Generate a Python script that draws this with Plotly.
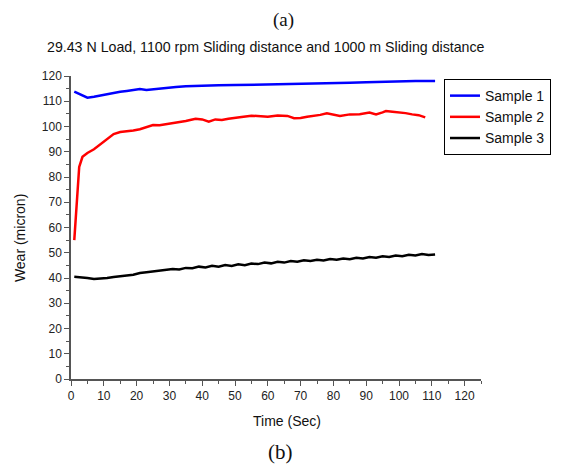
import plotly.graph_objects as go

# Data
time_s1 = [1, 3, 5, 7, 9, 11, 13, 15, 17, 19, 21, 23, 25, 27, 29, 32, 35, 38, 41, 45,
           50, 55, 60, 65, 70, 75, 80, 85, 90, 95, 100, 105, 111]
wear_s1 = [113.8, 112.5, 111.4, 111.8, 112.3, 112.9, 113.2, 113.8, 114.1, 114.6, 114.8,
           114.5, 114.8, 115.1, 115.3, 115.6, 115.9, 116.1, 116.2, 116.3, 116.4, 116.5,
           116.6, 116.7, 116.8, 116.9, 117.1, 117.3, 117.5, 117.7, 117.9, 118.0, 118.0]

time_s2 = [1, 2, 2.5, 3.5, 5, 7, 9, 11, 13, 15, 17, 19, 21, 23, 25, 27, 29, 31, 33, 35,
           37, 38, 40, 42, 44, 46, 48, 50, 52, 55, 58, 60, 63, 66, 68, 70, 72, 74, 76, 78,
           80, 82, 85, 88, 91, 93, 95, 96, 98, 100, 102, 104, 106, 108]
wear_s2 = [55, 75, 84, 88, 89.5, 91, 93, 95, 97, 97.8, 98, 98.4, 98.9, 99.9, 100.6, 100.5,
           100.9, 101.2, 101.8, 102.2, 102.8, 103.1, 102.8, 101.9, 102.8, 102.6, 103.1,
           103.6, 103.8, 104.3, 104.1, 103.9, 104.4, 104.2, 103.3, 103.4, 103.9, 104.2,
           104.6, 105.2, 104.6, 104.2, 104.8, 104.9, 105.5, 104.8, 105.6, 106.1, 105.8,
           105.6, 105.3, 104.8, 104.5, 103.6]

time_s3 = [1, 3, 5, 7, 9, 11, 13, 15, 17, 19, 21, 23, 25, 27, 29, 31, 33, 35, 37, 39, 41,
           43, 45, 47, 49, 51, 53, 55, 57, 59, 61, 63, 65, 67, 69, 71, 73, 75, 77, 79, 81,
           83, 85, 87, 89, 91, 93, 95, 97, 99, 101, 103, 105, 107, 109, 111]
wear_s3 = [40.5, 40.3, 40.0, 39.6, 39.7, 40.0, 40.4, 40.6, 41.0, 41.3, 42.0, 42.3, 42.6,
           43.0, 43.1, 43.6, 43.4, 44.0, 43.9, 44.5, 44.2, 44.8, 44.5, 45.1, 44.8, 45.4,
           45.1, 45.7, 45.5, 46.1, 45.8, 46.4, 46.1, 46.7, 46.4, 47.0, 46.7, 47.2, 46.9,
           47.5, 47.2, 47.7, 47.4, 48.0, 47.7, 48.3, 48.0, 48.6, 48.3, 48.9, 48.6, 49.2,
           48.9, 49.5, 49.1, 49.3]

series_names = ["Sample 1", "Sample 2", "Sample 3"]
series_colors = ["#0000ff", "#ff0000", "#000000"]

x_ticks = list(range(0, 121, 10))
y_ticks = list(range(0, 121, 10))

title_text = "29.43 N Load, 1100 rpm Sliding distance and 1000 m Sliding distance"

fig = go.Figure()
for name, xs, ys, col in zip(series_names, [time_s1, time_s2, time_s3],
                             [wear_s1, wear_s2, wear_s3], series_colors):
    fig.add_trace(go.Scatter(x=xs, y=ys, mode="lines", name=name,
                             line=dict(color=col, width=2.5)))

axis_common = dict(
    showline=True, linecolor="#555555", linewidth=1.5,
    ticks="outside", ticklen=5, tickwidth=1.2, tickcolor="#555555",
    showgrid=False, zeroline=False, mirror=False,
    tickfont=dict(family="Liberation Sans, Arial", size=12, color="#222222"),
    minor=dict(ticks="outside", ticklen=3, tickwidth=1, tickcolor="#555555", dtick=5),
)

# page has an 8px body margin; figure placed inside it
OFF = 8
fig.update_layout(
    width=554, height=458,
    margin=dict(l=71 - OFF, r=554 - (482 - OFF), t=76 - OFF, b=458 - (379 - OFF)),
    paper_bgcolor="white", plot_bgcolor="white",
    showlegend=True,
    legend=dict(x=0.9075, y=0.99, xanchor="left", yanchor="top",
                bordercolor="#000000", borderwidth=1, bgcolor="white",
                font=dict(family="Liberation Sans, Arial", size=14, color="#111111"),
                itemwidth=30, tracegroupgap=0),
    xaxis=dict(range=[0, 125], tickvals=x_ticks, **axis_common),
    yaxis=dict(range=[0, 120], tickvals=y_ticks, **axis_common),
)

annotations = [
    dict(text="(a)", x=284, y=20, font=dict(family="Liberation Serif, Times New Roman", size=19, color="#111111")),
    dict(text=title_text, x=266, y=47, font=dict(family="Liberation Sans, Arial", size=14.2, color="#111111")),
    dict(text="Time (Sec)", x=288, y=421, font=dict(family="Liberation Sans, Arial", size=14, color="#111111")),
    dict(text="(b)", x=281, y=452, font=dict(family="Liberation Serif, Times New Roman", size=21, color="#111111")),
]
for a in annotations:
    fig.add_annotation(text=a["text"], xref="paper", yref="paper",
                       x=(a["x"] - 71) / 411, y=(379 - a["y"]) / 303,
                       xanchor="center", yanchor="middle", showarrow=False, font=a["font"])

fig.add_annotation(text="Wear (micron)", xref="paper", yref="paper",
                   x=(20 - 71) / 411, y=(379 - 238) / 303, textangle=-90,
                   xanchor="center", yanchor="middle", showarrow=False,
                   font=dict(family="Liberation Sans, Arial", size=14, color="#111111"))

fig.write_html("out.html")
